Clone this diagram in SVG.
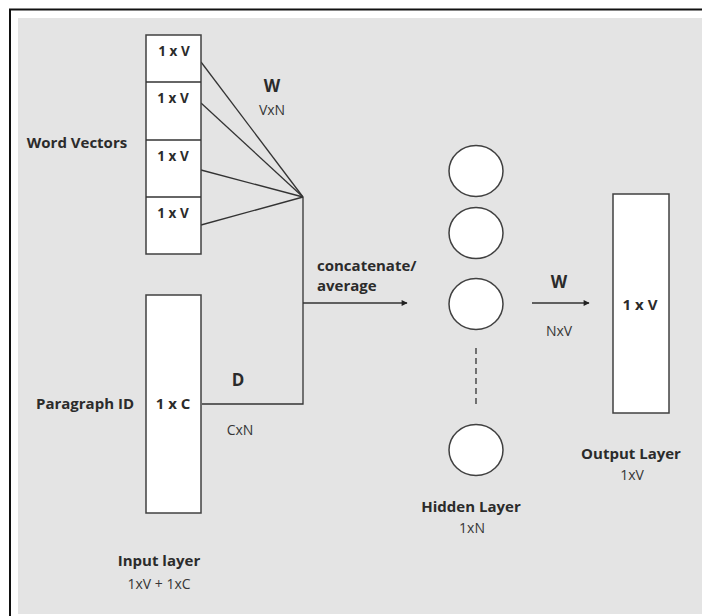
<svg xmlns="http://www.w3.org/2000/svg" width="702" height="616" viewBox="0 0 702 616">
<defs>
<style>
.t{font-family:"Open Sans","Liberation Sans",sans-serif;fill:#2b2b2b;text-anchor:middle}
.b{font-weight:bold;font-size:15px}
.w{font-weight:bold;font-size:17px}
.s{font-weight:bold;font-size:13.5px}
.r{font-size:14px;fill:#363636}
.box{fill:#fff;stroke:#404040;stroke-width:1.5}
.ln{fill:none;stroke:#333;stroke-width:1.3}
</style>
<marker id="ah" viewBox="0 0 10 10" refX="9" refY="5" markerWidth="9" markerHeight="6" markerUnits="userSpaceOnUse" orient="auto">
<path d="M0,0 L10,5 L0,10 Z" fill="#222"/>
</marker>
</defs>
<rect x="0" y="0" width="702" height="616" fill="#fff"/>
<rect x="18" y="18" width="684" height="596" fill="#e4e4e4"/>
<path d="M10,616 V9.5 H702" fill="none" stroke="#111" stroke-width="2"/>

<g id="connectors">
<line class="ln" x1="201" y1="62" x2="303" y2="197"/>
<line class="ln" x1="201" y1="103" x2="303" y2="197"/>
<line class="ln" x1="201" y1="170" x2="303" y2="197"/>
<line class="ln" x1="201" y1="225" x2="303" y2="197"/>
<path class="ln" d="M303,197 V404 H202"/>
<line class="ln" x1="303" y1="303" x2="407" y2="303" marker-end="url(#ah)"/>
<line class="ln" x1="532" y1="303" x2="589" y2="303" marker-end="url(#ah)"/>
<line x1="476" y1="348" x2="476" y2="405" stroke="#333" stroke-width="1.3" stroke-dasharray="6,4"/>
<text class="t w" x="272" y="92">W</text>
<text class="t r" x="272" y="115">VxN</text>
<text class="t b" x="317" y="271" style="text-anchor:start">concatenate/</text>
<text class="t b" x="317" y="291" style="text-anchor:start">average</text>
<text class="t w" x="238" y="386">D</text>
<text class="t r" x="240" y="435">CxN</text>
<text class="t w" x="559" y="288">W</text>
<text class="t r" x="559" y="336">NxV</text>
</g>

<g id="word-vectors">
<rect class="box" x="146" y="35" width="55" height="219"/>
<line class="ln" x1="146" y1="82" x2="201" y2="82"/>
<line class="ln" x1="146" y1="140" x2="201" y2="140"/>
<line class="ln" x1="146" y1="197" x2="201" y2="197"/>
<text class="t s" x="174" y="56">1 x V</text>
<text class="t s" x="173" y="103">1 x V</text>
<text class="t s" x="173" y="161">1 x V</text>
<text class="t s" x="173" y="218">1 x V</text>
<text class="t b" x="77" y="148">Word Vectors</text>
</g>

<g id="paragraph-id">
<rect class="box" x="146" y="295" width="55" height="218"/>
<text class="t b" x="173" y="409">1 x C</text>
<text class="t b" x="85" y="409">Paragraph ID</text>
</g>

<g id="input-label">
<text class="t b" x="159" y="566">Input layer</text>
<text class="t r" x="159" y="589">1xV + 1xC</text>
</g>

<g id="hidden-layer">
<ellipse class="box" cx="476" cy="171" rx="27" ry="25.5"/>
<ellipse class="box" cx="476" cy="233" rx="27" ry="25.5"/>
<ellipse class="box" cx="476" cy="304" rx="27" ry="25.5"/>
<ellipse class="box" cx="476" cy="450" rx="27" ry="25.5"/>
<text class="t b" x="471" y="512">Hidden Layer</text>
<text class="t r" x="472" y="533">1xN</text>
</g>

<g id="output-layer">
<rect class="box" x="613" y="194" width="56" height="219"/>
<text class="t b" x="640" y="310">1 x V</text>
<text class="t b" x="631" y="459">Output Layer</text>
<text class="t r" x="632" y="480">1xV</text>
</g>
</svg>
